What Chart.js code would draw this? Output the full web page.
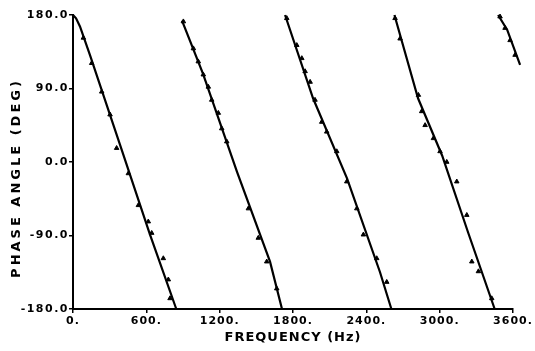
<!DOCTYPE html>
<html>
<head>
<meta charset="utf-8">
<script src="https://cdn.jsdelivr.net/npm/chart.js@4/dist/chart.umd.min.js"></script>
<style>
  html, body { margin: 0; padding: 0; background: #fff; }
  #wrap { width: 535px; height: 351px; }
</style>
</head>
<body>
<div id="wrap"><canvas id="c" width="535" height="351"></canvas></div>
<script>
// Axis ticks
const xTickValues = [0, 600, 1200, 1800, 2400, 3000, 3600];
const xTickLabels = ['0.', '600.', '1200.', '1800.', '2400.', '3000.', '3600.'];
const yTickValues = [-180, -90, 0, 90, 180];
const yTickLabels = ['-180.0', '-90.0', '0.0', '90.0', '180.0'];

// Fitted (solid) phase curves, one per wrap of the sawtooth
const line1Freq = [0, 25, 57, 139, 385, 630, 845];
const line1Phase = [180, 176, 166, 131, 21, -89, -180];
const line2Freq = [892, 1064, 1342, 1612, 1710];
const line2Phase = [173, 108, -12, -122, -180];
const line3Freq = [1735, 1964, 2242, 2512, 2605];
const line3Phase = [180, 78, -20, -135, -180];
const line4Freq = [2630, 2823, 3020, 3232, 3450];
const line4Phase = [180, 78, 8, -86, -180];
const line5Freq = [3478, 3552, 3658];
const line5Phase = [180, 162, 119];

// Measured points (triangles)
const meas1Freq = [85, 153, 235, 303, 357, 453, 535, 616, 644, 739, 780, 794];
const meas1Phase = [152, 121, 86, 58, 17, -14, -53, -73, -87, -118, -144, -167];
const meas2Freq = [903, 985, 1025, 1066, 1107, 1135, 1189, 1217, 1258, 1435, 1516, 1585, 1667];
const meas2Phase = [172, 139, 123, 107, 92, 76, 60, 41, 25, -57, -93, -122, -155];
const meas3Freq = [1749, 1831, 1872, 1899, 1940, 1980, 2035, 2076, 2158, 2240, 2322, 2376, 2485, 2567];
const meas3Phase = [176, 143, 127, 111, 98, 76, 49, 37, 13, -24, -57, -89, -118, -147];
const meas4Freq = [2635, 2676, 2826, 2853, 2881, 2949, 3003, 3058, 3140, 3222, 3263, 3317, 3426];
const meas4Phase = [176, 151, 82, 62, 45, 29, 13, 0, -24, -65, -122, -134, -167];
const meas5Freq = [3494, 3535, 3576, 3617, 3650];
const meas5Phase = [178, 164, 149, 131, 121];

const pts = (xs, ys) => xs.map((x, i) => ({ x: x, y: ys[i] }));

const lineDs = (xs, ys) => ({
  data: pts(xs, ys), showLine: true, borderColor: '#000', borderWidth: 2.2,
  pointRadius: 0, tension: 0, clip: false, order: 2
});
const measDs = (xs, ys) => ({
  data: pts(xs, ys), showLine: false, pointStyle: 'triangle', pointRadius: 2.6,
  backgroundColor: '#000', borderColor: '#000', borderWidth: 1, clip: false, order: 1
});

const FONT = "'DejaVu Sans', sans-serif";

// Letter spacing for the typewriter-like lettering of the original plot
const spacingPlugin = {
  id: 'spacing',
  beforeDraw(chart) {
    const cfg = { x: { title: '1px', labels: '1px', dy: 0 }, y: { title: '3px', labels: '1.5px', dy: 16 } };
    Object.keys(cfg).forEach(id => {
      const s = chart.scales[id];
      if (!s || s._lsPatched) return;
      const c = cfg[id];
      const origTitle = s.drawTitle.bind(s);
      const origLabels = s.drawLabels.bind(s);
      s.drawTitle = function (...a) {
        const ctx = this.ctx; ctx.save();
        ctx.letterSpacing = c.title; ctx.translate(0, c.dy);
        origTitle(...a); ctx.restore();
      };
      s.drawLabels = function (...a) {
        const ctx = this.ctx; ctx.save();
        ctx.letterSpacing = c.labels;
        origLabels(...a); ctx.restore();
      };
      s._lsPatched = true;
    });
  }
};

new Chart(document.getElementById('c'), {
  type: 'scatter',
  plugins: [spacingPlugin],
  data: {
    datasets: [
      lineDs(line1Freq, line1Phase), lineDs(line2Freq, line2Phase), lineDs(line3Freq, line3Phase),
      lineDs(line4Freq, line4Phase), lineDs(line5Freq, line5Phase),
      measDs(meas1Freq, meas1Phase), measDs(meas2Freq, meas2Phase), measDs(meas3Freq, meas3Phase),
      measDs(meas4Freq, meas4Phase), measDs(meas5Freq, meas5Phase)
    ]
  },
  options: {
    responsive: false, animation: false, devicePixelRatio: 1,
    layout: { padding: { left: 0, right: 22, top: 15, bottom: 0 } },
    plugins: { legend: { display: false }, tooltip: { enabled: false } },
    scales: {
      x: {
        type: 'linear', min: 0, max: 3600,
        afterBuildTicks: (s) => { s.ticks = xTickValues.map(v => ({ value: v })); },
        afterFit: (s) => { s.height = 42; },
        grid: { display: true, drawOnChartArea: false, color: '#000', tickLength: 4, lineWidth: 1.5 },
        border: { display: true, color: '#000', width: 2 },
        ticks: {
          autoSkip: false, maxRotation: 0, padding: 2, color: '#000',
          font: { family: FONT, size: 11, weight: 'bold' },
          callback: (v) => { const i = xTickValues.indexOf(v); return i >= 0 ? xTickLabels[i] : ''; }
        },
        title: {
          display: true, text: 'FREQUENCY (Hz)', color: '#000',
          font: { family: FONT, size: 13, weight: 'bold' },
          padding: { top: 0, bottom: 6 }
        }
      },
      y: {
        type: 'linear', min: -180, max: 180,
        afterBuildTicks: (s) => { s.ticks = yTickValues.map(v => ({ value: v })); },
        afterFit: (s) => { s.width = 73; },
        grid: { display: true, drawOnChartArea: false, color: '#000', tickLength: 4, lineWidth: 1.5 },
        border: { display: true, color: '#000', width: 2 },
        ticks: {
          autoSkip: false, padding: 0, color: '#000',
          font: { family: FONT, size: 11, weight: 'bold' },
          callback: (v) => { const i = yTickValues.indexOf(v); return i >= 0 ? yTickLabels[i] : ''; }
        },
        title: {
          display: true, text: 'PHASE ANGLE (DEG)', color: '#000',
          font: { family: FONT, size: 13, weight: 'bold' },
          padding: { top: 9, bottom: 0 }
        }
      }
    }
  }
});
</script>
</body>
</html>
